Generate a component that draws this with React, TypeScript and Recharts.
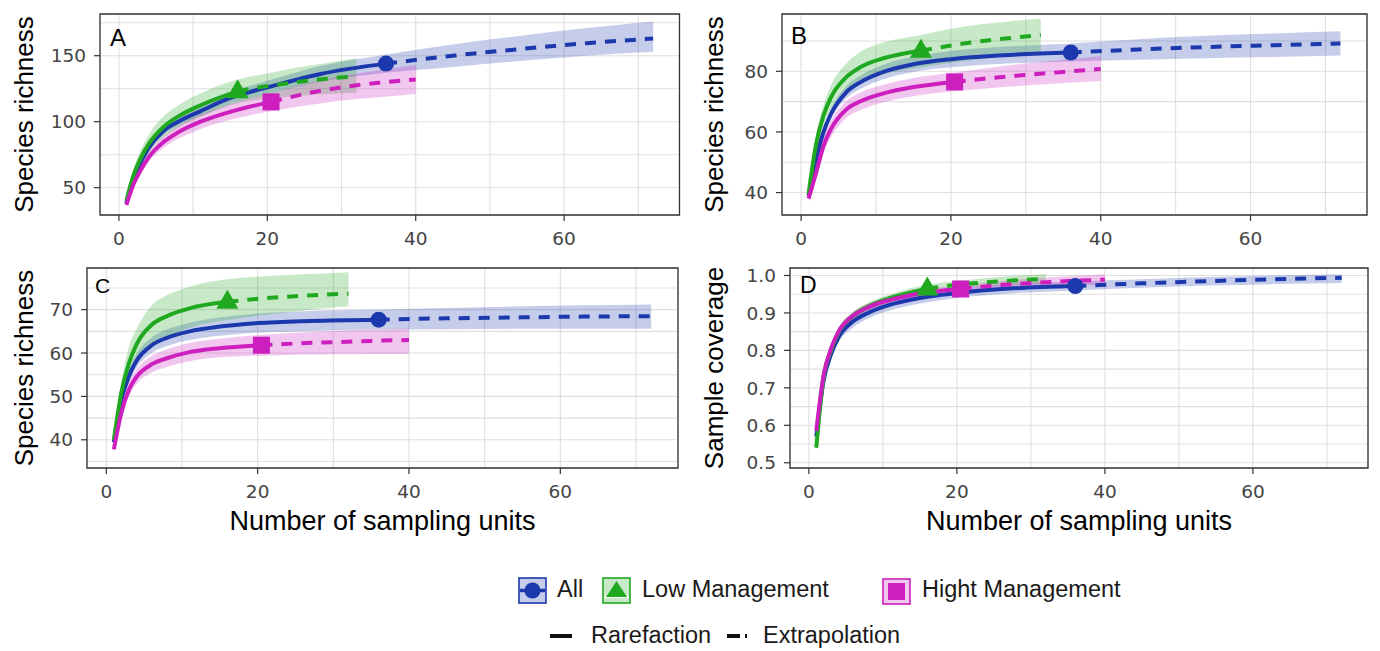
import React from "react";
import {
  Area,
  CartesianGrid,
  ComposedChart,
  Line,
  ReferenceArea,
  Scatter,
  XAxis,
  YAxis,
} from "recharts";

// sampling-unit knots of each assemblage (observed size = where the marker sits)
const xAll = [1, 2, 3, 4, 6, 8, 11, 15, 20, 27, 36, 45, 54, 63, 72];
const xLow = [1, 2, 3, 4, 6, 8, 11, 16, 20, 24, 28, 32];
const xHigh = [1, 2, 3, 4, 6, 8, 11, 15, 20.5, 25, 30, 35, 40];
const obsAll = 36;
const obsLow = 16;
const obsHigh = 20.5;

// A - species richness
const aAll = [38, 57, 70, 80, 93, 100, 108, 118, 126, 136, 144, 150, 155, 159.5, 163];
const aAllLo = [37, 55, 68, 77.5, 90, 97, 104.5, 113.5, 121, 130, 137, 141.5, 146, 150, 153];
const aAllHi = [40, 59, 72.5, 83, 96, 103.5, 112, 122.5, 131, 142, 151, 158.5, 165, 171, 176];
const aLow = [40, 60, 73, 83, 96, 104, 112.5, 123, 127, 130, 132.5, 134.5];
const aLowLo = [38, 55, 66.5, 76, 88, 95.5, 103.5, 114, 117.5, 119.5, 121, 122];
const aLowHi = [42, 65, 79.5, 90, 104, 112.5, 121.5, 132, 136.5, 141, 144.5, 148];
const aHigh = [37, 53, 64, 73, 84.5, 92, 100, 107.5, 115, 121, 126, 129.5, 132];
const aHighLo = [36, 50.5, 61, 69.5, 80, 87, 94.5, 101.5, 108, 112, 116, 118.5, 121];
const aHighHi = [38.5, 55.5, 67, 76.5, 89, 97, 105.5, 113.5, 122, 128.5, 134.5, 139, 143];

// B - species richness
const bAll = [39, 51, 60, 66, 73, 76.5, 79.8, 82.3, 84, 85.3, 86.2, 87.2, 88, 88.6, 89.2];
const bAllLo = [38, 49.5, 58.3, 64.2, 71, 74.3, 77.4, 79.8, 81.3, 82.5, 83.2, 83.8, 84.3, 84.7, 85.2];
const bAllHi = [40, 52.5, 61.7, 67.8, 75, 78.7, 82.2, 84.8, 86.7, 88.1, 89.2, 90.6, 91.7, 92.5, 93.2];
const bLow = [39.6, 56, 65.5, 71.5, 78, 81.5, 84.3, 86.8, 88.5, 89.9, 91, 92];
const bLowLo = [38.5, 53, 62, 67.5, 73.5, 76.5, 79, 81.3, 82.8, 84, 85.2, 86.2];
const bLowHi = [41, 59, 69, 75.5, 82.5, 86.5, 89.5, 92, 94, 95.5, 96.5, 97.4];
const bHigh = [38, 46.5, 55.5, 61, 67.3, 70.2, 72.7, 74.8, 76.5, 77.7, 78.8, 79.8, 80.8];
const bHighLo = [37, 44.5, 53, 58.3, 64.5, 67.3, 69.8, 71.8, 73.4, 74.4, 75.3, 76.1, 76.8];
const bHighHi = [39, 48.5, 58, 63.7, 70.1, 73.1, 75.6, 77.8, 79.6, 81.1, 82.6, 83.8, 85];

// C - species richness
const cAll = [39.4, 49.3, 54.7, 58.2, 61.8, 63.5, 65, 66.1, 66.9, 67.4, 67.7, 68, 68.2, 68.4, 68.5];
const cAllLo = [38.5, 48, 53.2, 56.6, 60, 61.6, 63, 64, 64.7, 65.1, 65.4, 65.5, 65.6, 65.6, 65.6];
const cAllHi = [40.3, 50.6, 56.2, 59.8, 63.6, 65.4, 67, 68.2, 69.1, 69.7, 70, 70.4, 70.7, 71, 71.2];
const cLow = [40, 51, 57.7, 62, 66.5, 68.5, 70.3, 71.8, 72.5, 73, 73.4, 73.7];
const cLowLo = [39, 48.5, 54, 57.5, 61.5, 63.5, 65.8, 67.6, 68.6, 69.4, 70.2, 70.8];
const cLowHi = [41, 53.5, 61.5, 65.5, 71, 73.3, 75.3, 77, 77.6, 78, 78.3, 78.6];
const cHigh = [37.8, 46.3, 51.6, 54.5, 57.4, 58.8, 60.2, 61.1, 61.8, 62.2, 62.5, 62.8, 63];
const cHighLo = [37, 45, 50, 52.8, 55.5, 56.8, 58.1, 59, 59.4, 59.6, 59.7, 59.8, 59.8];
const cHighHi = [38.6, 47.6, 53.2, 56.2, 59.3, 60.8, 62.3, 63.3, 64.2, 64.7, 65.1, 65.4, 65.6];

// D - sample coverage
const dAll = [0.57, 0.72, 0.79, 0.835, 0.878, 0.9, 0.922, 0.94, 0.953, 0.965, 0.972, 0.979, 0.985, 0.99, 0.994];
const dAllLo = [0.555, 0.705, 0.775, 0.82, 0.862, 0.885, 0.907, 0.925, 0.94, 0.952, 0.96, 0.967, 0.973, 0.977, 0.98];
const dAllHi = [0.585, 0.735, 0.805, 0.85, 0.894, 0.915, 0.937, 0.955, 0.966, 0.978, 0.984, 0.99, 0.996, 1.0, 1.003];
const dLow = [0.54, 0.73, 0.8, 0.848, 0.893, 0.917, 0.94, 0.965, 0.975, 0.982, 0.987, 0.991];
const dLowLo = [0.53, 0.72, 0.79, 0.838, 0.883, 0.907, 0.93, 0.955, 0.965, 0.971, 0.975, 0.978];
const dLowHi = [0.55, 0.74, 0.81, 0.858, 0.903, 0.927, 0.95, 0.975, 0.985, 0.993, 0.999, 1.004];
const dHigh = [0.585, 0.735, 0.805, 0.85, 0.893, 0.915, 0.935, 0.952, 0.964, 0.973, 0.98, 0.985, 0.989];
const dHighLo = [0.575, 0.725, 0.795, 0.84, 0.883, 0.905, 0.925, 0.942, 0.954, 0.962, 0.968, 0.972, 0.975];
const dHighHi = [0.595, 0.745, 0.815, 0.86, 0.903, 0.925, 0.945, 0.962, 0.974, 0.984, 0.992, 0.998, 1.003];

// axis ticks
const xMajor = [0, 20, 40, 60];
const xMinor = [10, 30, 50, 70];
const aMajor = [50, 100, 150];
const aMinor = [75, 125, 175];
const bMajor = [40, 60, 80];
const bMinor = [50, 70, 90];
const cMajor = [40, 50, 60, 70];
const cMinor = [35, 45, 55, 65, 75];
const dMajor = [0.5, 0.6, 0.7, 0.8, 0.9, 1.0];
const dMinor = [0.55, 0.65, 0.75, 0.85, 0.95];

const X_DOMAIN: [number, number] = [-2.55, 75.55];

const BLUE = "#1c38ad";
const GREEN = "#20a820";
const PINK = "#cc1fbe";
const FONT = "'Liberation Sans', Arial, sans-serif";
const TICK_FONT = "'DejaVu Sans', sans-serif";

type Row = { x: number; y: number; band: [number, number] };

const toRows = (xs: number[], mean: number[], lo: number[], hi: number[], obs: number) => {
  const rows: Row[] = xs.map((x, i) => ({ x, y: mean[i], band: [lo[i], hi[i]] }));
  return {
    all: rows,
    rare: rows.filter((r) => r.x <= obs),
    ext: rows.filter((r) => r.x >= obs),
    point: rows.filter((r) => r.x === obs),
  };
};

const circleShape = (p: any) => <circle cx={p.cx} cy={p.cy} r={8} fill={BLUE} />;
const triangleShape = (p: any) => (
  <polygon
    points={`${p.cx},${p.cy - 12} ${p.cx - 11},${p.cy + 7} ${p.cx + 11},${p.cy + 7}`}
    fill={GREEN}
  />
);
const squareShape = (p: any) => (
  <rect x={p.cx - 8.5} y={p.cy - 8.5} width={17} height={17} fill={PINK} />
);

const XTick = (p: any) => {
  const v = p.payload.value;
  if (!xMajor.includes(v)) return <g />;
  return (
    <g>
      <line x1={p.x} x2={p.x} y1={p.y} y2={p.y + 6} stroke="#333" strokeWidth={1.2} />
      <text x={p.x} y={p.y + 30} textAnchor="middle" fontFamily={TICK_FONT} fontSize={18.5} fill="#444">
        {v}
      </text>
    </g>
  );
};

const makeYTick = (major: number[], digits: number) => (p: any) => {
  const v = p.payload.value;
  if (!major.some((m) => Math.abs(m - v) < 1e-9)) return <g />;
  return (
    <g>
      <line x1={p.x - 6} x2={p.x} y1={p.y} y2={p.y} stroke="#333" strokeWidth={1.2} />
      <text x={p.x - 14} y={p.y} dy="0.36em" textAnchor="end" fontFamily={TICK_FONT} fontSize={18.5} fill="#444">
        {v.toFixed(digits)}
      </text>
    </g>
  );
};

type PanelProps = {
  left: number;
  top: number;
  height: number;
  yWidth: number;
  mt: number;
  mr: number;
  xh: number;
  yDomain: [number, number];
  yMajor: number[];
  yMinor: number[];
  digits: number;
  all: ReturnType<typeof toRows>;
  low: ReturnType<typeof toRows>;
  high: ReturnType<typeof toRows>;
};

const Panel = (props: PanelProps) => {
  const { all, low, high } = props;
  const groups = [
    { s: all, color: BLUE, shape: circleShape },
    { s: low, color: GREEN, shape: triangleShape },
    { s: high, color: PINK, shape: squareShape },
  ];
  const xTicks = [...xMajor, ...xMinor].sort((a, b) => a - b);
  const yTicks = [...props.yMajor, ...props.yMinor].sort((a, b) => a - b);
  return (
    <div style={{ position: "absolute", left: props.left, top: props.top }}>
      <ComposedChart
        width={690}
        height={props.height}
        margin={{ top: props.mt, right: props.mr, bottom: 0, left: 0 }}
      >
        <CartesianGrid stroke="#dfdfdf" strokeWidth={1.1} />
        <XAxis
          type="number"
          dataKey="x"
          domain={X_DOMAIN}
          allowDataOverflow
          ticks={xTicks}
          interval={0}
          height={props.xh}
          axisLine={false}
          tickLine={false}
          tickSize={0}
          tickMargin={0}
          tick={XTick}
        />
        <YAxis
          type="number"
          dataKey="y"
          domain={props.yDomain}
          allowDataOverflow
          ticks={yTicks}
          interval={0}
          width={props.yWidth}
          axisLine={false}
          tickLine={false}
          tickSize={0}
          tickMargin={0}
          tick={makeYTick(props.yMajor, props.digits)}
        />
        {groups.map((g, i) => (
          <Area
            key={`band${i}`}
            data={g.s.all}
            dataKey="band"
            type="monotone"
            stroke="none"
            fill={g.color}
            fillOpacity={0.25}
            dot={false}
            activeDot={false}
            isAnimationActive={false}
          />
        ))}
        {groups.map((g, i) => (
          <Line
            key={`rare${i}`}
            data={g.s.rare}
            dataKey="y"
            type="monotone"
            stroke={g.color}
            strokeWidth={4}
            dot={false}
            activeDot={false}
            isAnimationActive={false}
          />
        ))}
        {groups.map((g, i) => (
          <Line
            key={`ext${i}`}
            data={g.s.ext}
            dataKey="y"
            type="monotone"
            stroke={g.color}
            strokeWidth={4}
            strokeDasharray="11 9"
            dot={false}
            activeDot={false}
            isAnimationActive={false}
          />
        ))}
        {groups.map((g, i) => (
          <Scatter
            key={`pt${i}`}
            data={g.s.point}
            dataKey="y"
            shape={g.shape}
            isAnimationActive={false}
          />
        ))}
        <ReferenceArea
          x1={X_DOMAIN[0]}
          x2={X_DOMAIN[1]}
          y1={props.yDomain[0]}
          y2={props.yDomain[1]}
          fill="none"
          fillOpacity={0}
          stroke="#333"
          strokeWidth={1.3}
          ifOverflow="visible"
        />
      </ComposedChart>
    </div>
  );
};

const App = () => {
  return (
    <div
      style={{
        position: "absolute",
        left: 0,
        top: 0,
        width: 1380,
        height: 651,
        background: "#fff",
        overflow: "hidden",
      }}
    >
      <Panel
        left={0}
        top={0}
        height={260}
        yWidth={100}
        mt={14}
        mr={10.5}
        xh={45}
        yDomain={[29.3, 181.6]}
        yMajor={aMajor}
        yMinor={aMinor}
        digits={0}
        all={toRows(xAll, aAll, aAllLo, aAllHi, obsAll)}
        low={toRows(xLow, aLow, aLowLo, aLowHi, obsLow)}
        high={toRows(xHigh, aHigh, aHighLo, aHighHi, obsHigh)}
      />
      <Panel
        left={690}
        top={0}
        height={260}
        yWidth={92}
        mt={14}
        mr={13}
        xh={45}
        yDomain={[32.6, 98.9]}
        yMajor={bMajor}
        yMinor={bMinor}
        digits={0}
        all={toRows(xAll, bAll, bAllLo, bAllHi, obsAll)}
        low={toRows(xLow, bLow, bLowLo, bLowHi, obsLow)}
        high={toRows(xHigh, bHigh, bHighLo, bHighHi, obsHigh)}
      />
      <Panel
        left={0}
        top={250}
        height={270}
        yWidth={87}
        mt={18}
        mr={12}
        xh={52}
        yDomain={[33.5, 79.6]}
        yMajor={cMajor}
        yMinor={cMinor}
        digits={0}
        all={toRows(xAll, cAll, cAllLo, cAllHi, obsAll)}
        low={toRows(xLow, cLow, cLowLo, cLowHi, obsLow)}
        high={toRows(xHigh, cHigh, cHighLo, cHighHi, obsHigh)}
      />
      <Panel
        left={690}
        top={250}
        height={270}
        yWidth={100}
        mt={18}
        mr={12}
        xh={52}
        yDomain={[0.486, 1.02]}
        yMajor={dMajor}
        yMinor={dMinor}
        digits={1}
        all={toRows(xAll, dAll, dAllLo, dAllHi, obsAll)}
        low={toRows(xLow, dLow, dLowLo, dLowHi, obsLow)}
        high={toRows(xHigh, dHigh, dHighLo, dHighHi, obsHigh)}
      />

      {/* panel letters, axis titles and the legend */}
      <svg
        width={1380}
        height={651}
        style={{ position: "absolute", left: 0, top: 0, pointerEvents: "none" }}
      >
        <g fontFamily={FONT} fill="#000">
          <text x={110} y={46} fontSize={24}>A</text>
          <text x={791} y={44} fontSize={24}>B</text>
          <text x={95} y={293} fontSize={21}>C</text>
          <text x={800} y={293} fontSize={23}>D</text>

          <g fontSize={26} textAnchor="middle">
            <text x={33} y={114.5} transform="rotate(-90 33 114.5)">Species richness</text>
            <text x={723} y={114.5} transform="rotate(-90 723 114.5)">Species richness</text>
            <text x={33} y={368} transform="rotate(-90 33 368)">Species richness</text>
            <text x={723} y={368} transform="rotate(-90 723 368)">Sample coverage</text>
          </g>
          <g fontSize={27} textAnchor="middle">
            <text x={382.5} y={530}>Number of sampling units</text>
            <text x={1079} y={530}>Number of sampling units</text>
          </g>
        </g>

        <g>
          <rect x={519} y={578} width={27} height={25} fill={BLUE} fillOpacity={0.25} stroke={BLUE} strokeWidth={1.6} />
          <line x1={520} x2={545} y1={590.5} y2={590.5} stroke={BLUE} strokeWidth={3.5} />
          <circle cx={532.5} cy={590.5} r={8} fill={BLUE} />

          <rect x={603} y={578} width={27} height={25} fill={GREEN} fillOpacity={0.25} stroke={GREEN} strokeWidth={1.6} />
          <line x1={604} x2={629} y1={597} y2={597} stroke="#fff" strokeWidth={2} />
          <polygon points="616.5,581 606,597 627,597" fill={GREEN} />

          <rect x={883} y={579} width={27} height={25} fill={PINK} fillOpacity={0.25} stroke={PINK} strokeWidth={1.6} />
          <rect x={888} y={583} width={17} height={17} fill={PINK} />

          <line x1={550} x2={572} y1={636} y2={636} stroke="#111" strokeWidth={4} />
          <line x1={727} x2={748} y1={636} y2={636} stroke="#111" strokeWidth={4} strokeDasharray="13 5 2 10" />
        </g>
        <g fontFamily={FONT} fontSize={23.5} fill="#1a1a1a">
          <text x={557} y={597}>All</text>
          <text x={642} y={597}>Low Management</text>
          <text x={922} y={597}>Hight Management</text>
          <text x={591} y={643}>Rarefaction</text>
          <text x={763} y={643}>Extrapolation</text>
        </g>
      </svg>
    </div>
  );
};

export default App;
